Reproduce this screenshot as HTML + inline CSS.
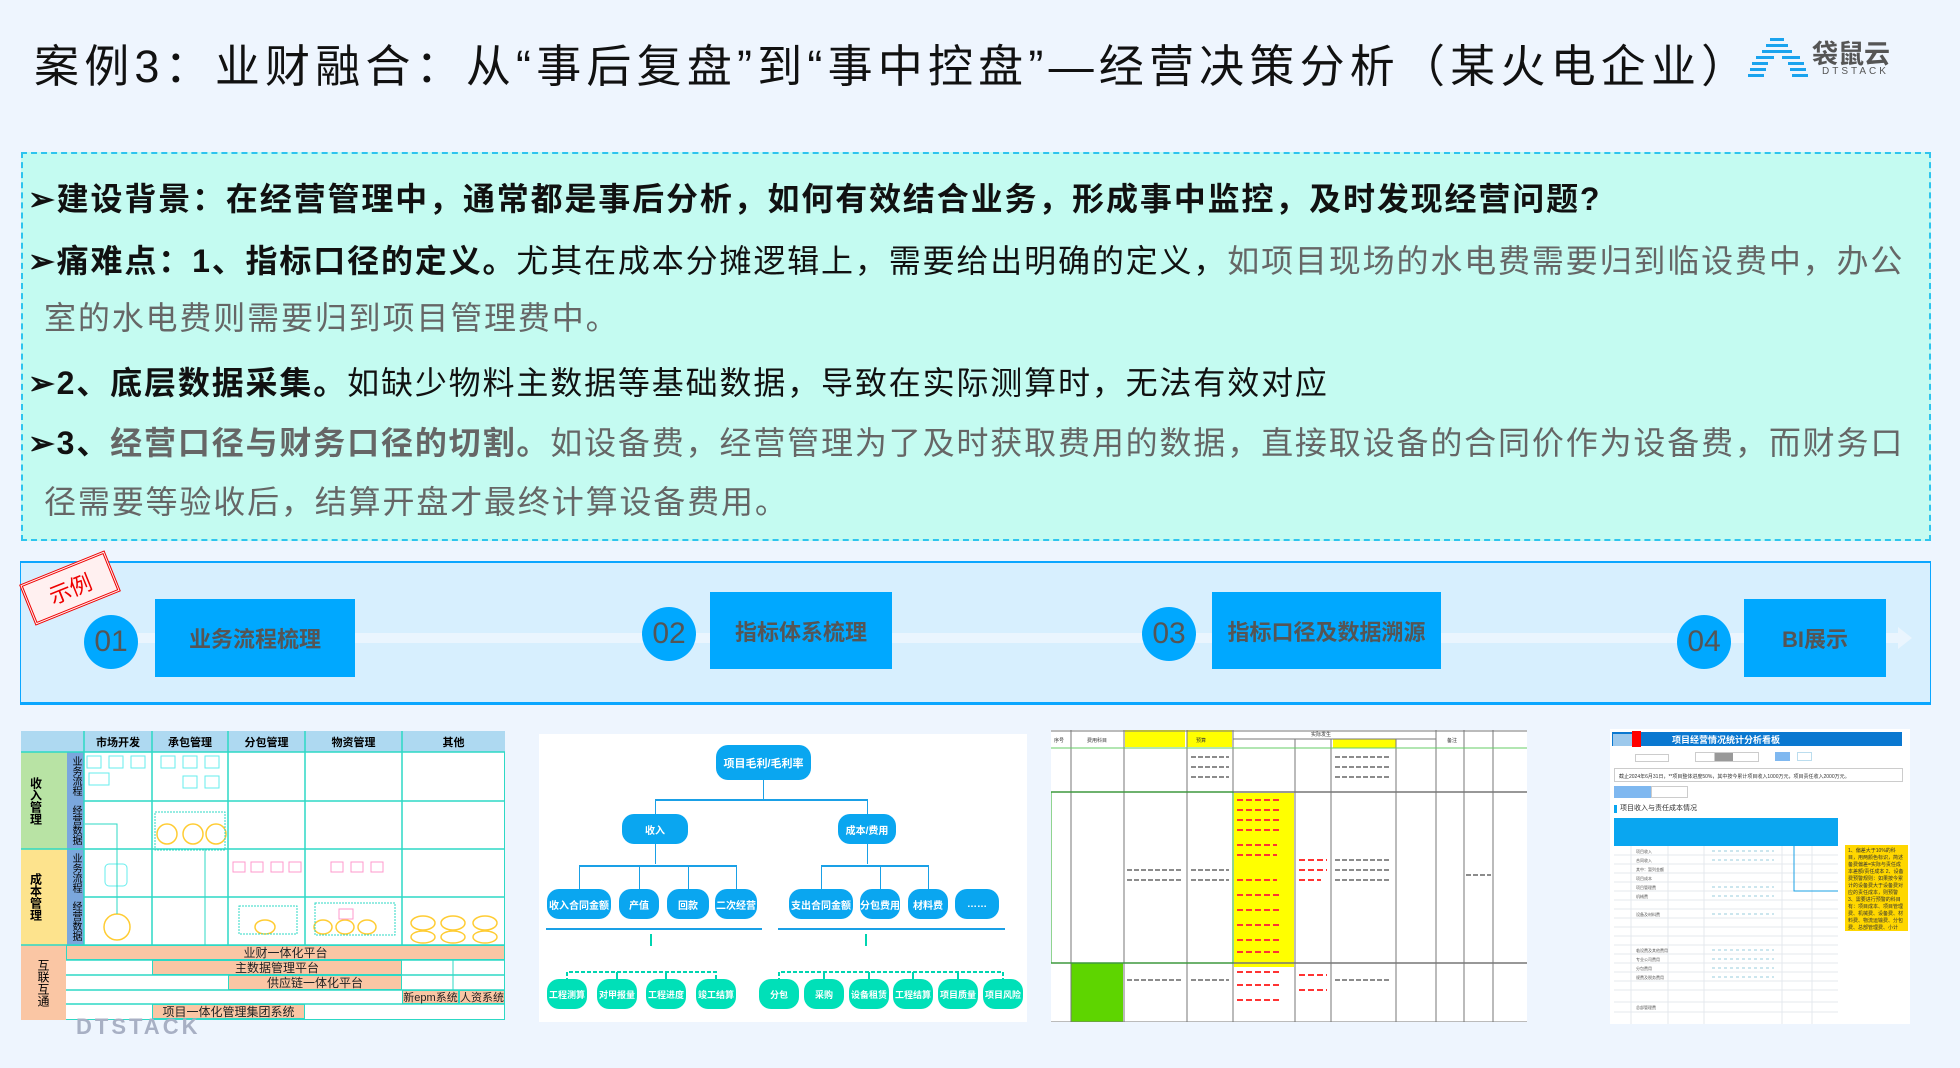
<!DOCTYPE html>
<html><head><meta charset="utf-8">
<style>
*{margin:0;padding:0;box-sizing:border-box}
body{width:1960px;height:1068px;background:#eef5fe;position:relative;overflow:hidden;font-family:"Liberation Sans","Noto Sans CJK SC",sans-serif}
.a{position:absolute}
.t{font-size:32px;color:#111;white-space:nowrap;letter-spacing:1.85px}
.g{color:#666}
.box{background:#00a8ff;color:#555;font-weight:bold;font-size:22px;display:flex;align-items:center;justify-content:center}
.num{background:#00a8ff;border-radius:50%;color:#555;font-size:30px;display:flex;align-items:center;justify-content:center;width:54px;height:54px}
.c{display:flex;align-items:center;justify-content:center;text-align:center;white-space:nowrap}
.bar{background:#fac6a4;border:1px solid #2dd9c5;font-size:12px;color:#222}
.tn{background:#0aa6f0;color:#fff;border-radius:12px;font-size:10px;font-weight:bold;overflow:hidden}
.gn{background:#00e0b8;color:#fff;border-radius:12px;font-size:9px;font-weight:bold;overflow:hidden}
.vl{position:absolute;width:0;border-left:1px solid #1aa0e6}
.hl{position:absolute;height:0;border-top:2px solid #1aa0e6}
</style></head><body>

<div class="a" style="left:34px;top:30px;font-size:45px;color:#111;white-space:nowrap;letter-spacing:5.2px">案例3：业财融合：从“事后复盘”到“事中控盘”—经营决策分析（某火电企业）</div>
<svg class="a" style="left:1748px;top:36px" width="70" height="44">
<g fill="#1aa3ee"><rect x="22" y="2" width="14" height="3"/><rect x="18" y="8" width="22" height="3"/><rect x="14" y="14" width="30" height="3"/><rect x="8" y="20" width="18" height="3"/><rect x="34" y="20" width="18" height="3"/><rect x="4" y="26" width="16" height="3"/><rect x="40" y="26" width="16" height="3"/><rect x="2" y="32" width="16" height="3"/><rect x="42" y="32" width="16" height="3"/><rect x="0" y="38" width="16" height="3"/><rect x="44" y="38" width="16" height="3"/></g></svg>
<div class="a" style="left:1812px;top:34px;font-size:26px;color:#555;font-weight:bold">袋鼠云</div>
<div class="a" style="left:1822px;top:66px;font-size:10px;color:#555;letter-spacing:3px">DTSTACK</div>

<div class="a" style="left:21px;top:152px;width:1910px;height:389px;background:#c4fbf1;border:2px dashed #2ec4ee"></div>
<div class="a t" style="left:28px;top:174px;font-weight:bold">➢建设背景：在经营管理中，通常都是事后分析，如何有效结合业务，形成事中监控，及时发现经营问题?</div>
<div class="a t" style="left:28px;top:236px"><b>➢痛难点：1、指标口径的定义。</b>尤其在成本分摊逻辑上，需要给出明确的定义，<span class="g">如项目现场的水电费需要归到临设费中，办公</span></div>
<div class="a t g" style="left:44px;top:293px">室的水电费则需要归到项目管理费中。</div>
<div class="a t" style="left:28px;top:358px"><b>➢2、底层数据采集。</b>如缺少物料主数据等基础数据，导致在实际测算时，无法有效对应</div>
<div class="a t g" style="left:28px;top:418px"><b style="color:#111">➢</b><b style="color:#111">3、</b><b>经营口径与财务口径的切割。</b>如设备费，经营管理为了及时获取费用的数据，直接取设备的合同价作为设备费，而财务口</div>
<div class="a t g" style="left:44px;top:477px">径需要等验收后，结算开盘才最终计算设备费用。</div>

<div class="a" style="left:20px;top:561px;width:1911px;height:144px;background:#d7effe;border-top:2px solid #0aa6ff;border-bottom:3px solid #0aa6ff;border-left:1px solid #0aa6ff;border-right:1px solid #0aa6ff"></div>
<div class="a" style="left:120px;top:633px;width:1780px;height:10px;background:#eaf5fe"></div>
<div class="a" style="left:1898px;top:627px;width:0;height:0;border-left:14px solid #eaf5fe;border-top:11px solid transparent;border-bottom:11px solid transparent"></div>
<div class="a" style="left:24px;top:566px;width:92px;height:44px;border:3px double #e00;transform:rotate(-22deg);color:#e00;font-size:22px;display:flex;align-items:center;justify-content:center;background:#fff0f0">示例</div>

<div class="a num" style="left:84px;top:615px">01</div>
<div class="a box" style="left:155px;top:599px;width:200px;height:78px">业务流程梳理</div>
<div class="a num" style="left:642px;top:607px">02</div>
<div class="a box" style="left:710px;top:592px;width:182px;height:77px">指标体系梳理</div>
<div class="a num" style="left:1142px;top:607px">03</div>
<div class="a box" style="left:1212px;top:592px;width:229px;height:77px">指标口径及数据溯源</div>
<div class="a num" style="left:1677px;top:615px">04</div>
<div class="a box" style="left:1744px;top:599px;width:142px;height:78px">BI展示</div>

<div class="a" style="left:21px;top:731px;width:484px;height:289px;background:#fff;border:1px solid #2dd9c5"></div>
<div class="a" style="left:21px;top:731px;width:484px;height:21px;background:#aed9f1"></div>
<div class="a c" style="left:84px;top:731px;width:68px;height:21px;font-size:11px;font-weight:bold">市场开发</div>
<div class="a c" style="left:152px;top:731px;width:76px;height:21px;font-size:11px;font-weight:bold">承包管理</div>
<div class="a c" style="left:228px;top:731px;width:77px;height:21px;font-size:11px;font-weight:bold">分包管理</div>
<div class="a c" style="left:305px;top:731px;width:97px;height:21px;font-size:11px;font-weight:bold">物资管理</div>
<div class="a c" style="left:402px;top:731px;width:103px;height:21px;font-size:11px;font-weight:bold">其他</div>
<div class="a" style="left:21px;top:752px;width:46px;height:97px;background:#b8e3a4"></div>
<div class="a c" style="left:21px;top:752px;width:30px;height:97px;font-size:12px;font-weight:bold;writing-mode:vertical-rl">收入管理</div>
<div class="a" style="left:21px;top:849px;width:46px;height:96px;background:#fde38d"></div>
<div class="a c" style="left:21px;top:849px;width:30px;height:96px;font-size:12px;font-weight:bold;writing-mode:vertical-rl">成本管理</div>
<div class="a" style="left:67px;top:752px;width:17px;height:193px;background:#7ba7dd"></div>
<div class="a c" style="left:67px;top:752px;width:17px;height:48px;font-size:10px;writing-mode:vertical-rl">业务流程</div>
<div class="a c" style="left:67px;top:801px;width:17px;height:48px;font-size:10px;writing-mode:vertical-rl">经营数据</div>
<div class="a c" style="left:67px;top:849px;width:17px;height:48px;font-size:10px;writing-mode:vertical-rl">业务流程</div>
<div class="a c" style="left:67px;top:897px;width:17px;height:48px;font-size:10px;writing-mode:vertical-rl">经营数据</div>
<div class="a" style="left:21px;top:945px;width:45px;height:75px;background:#fac6a4"></div>
<div class="a c" style="left:21px;top:945px;width:45px;height:75px;font-size:12px;writing-mode:vertical-rl">互联互通</div>
<svg class="a" style="left:21px;top:731px" width="484" height="289">
<g stroke="#2dd9c5" stroke-width="1.5">
<line x1="63" y1="0" x2="63" y2="214"/><line x1="131" y1="0" x2="131" y2="214"/><line x1="207" y1="0" x2="207" y2="214"/><line x1="284" y1="0" x2="284" y2="214"/><line x1="381" y1="0" x2="381" y2="214"/>
<line x1="0" y1="21" x2="484" y2="21"/><line x1="63" y1="70" x2="484" y2="70"/><line x1="0" y1="118" x2="484" y2="118"/><line x1="63" y1="166" x2="484" y2="166"/><line x1="0" y1="214" x2="484" y2="214"/>
<line x1="45" y1="229" x2="484" y2="229"/><line x1="45" y1="244" x2="484" y2="244"/><line x1="45" y1="259" x2="484" y2="259"/><line x1="45" y1="273" x2="484" y2="273"/>
</g>
<g fill="#fff" stroke="#6ee" stroke-width="1"><rect x="66" y="25" width="14" height="12"/><rect x="88" y="25" width="14" height="12"/><rect x="110" y="25" width="14" height="12"/><rect x="68" y="42" width="20" height="12"/><rect x="140" y="25" width="14" height="12"/><rect x="162" y="25" width="14" height="12"/><rect x="184" y="25" width="14" height="12"/><rect x="162" y="45" width="14" height="12"/><rect x="184" y="45" width="14" height="12"/><rect x="84" y="133" width="22" height="22" rx="4"/></g>
<g fill="#fff" stroke="#fc3" stroke-width="1.5"><circle cx="96" cy="196" r="13"/><ellipse cx="146" cy="103" rx="10" ry="10"/><ellipse cx="172" cy="103" rx="10" ry="10"/><ellipse cx="195" cy="103" rx="10" ry="10"/><ellipse cx="244" cy="196" rx="10" ry="7"/><ellipse cx="302" cy="196" rx="9" ry="7"/><ellipse cx="324" cy="196" rx="9" ry="7"/><ellipse cx="346" cy="196" rx="9" ry="7"/><ellipse cx="402" cy="192" rx="12" ry="7"/><ellipse cx="432" cy="192" rx="12" ry="7"/><ellipse cx="464" cy="192" rx="12" ry="7"/><ellipse cx="402" cy="206" rx="12" ry="6"/><ellipse cx="432" cy="206" rx="12" ry="6"/><ellipse cx="464" cy="206" rx="12" ry="6"/></g>
<g fill="none" stroke="#2dd9c5" stroke-dasharray="2 1"><rect x="134" y="81" width="70" height="38"/><rect x="218" y="175" width="58" height="28"/><rect x="294" y="172" width="80" height="32"/></g>
<g fill="#fff" stroke="#f9c" stroke-width="1"><rect x="212" y="131" width="12" height="10"/><rect x="230" y="131" width="12" height="10"/><rect x="250" y="131" width="12" height="10"/><rect x="268" y="131" width="12" height="10"/><rect x="310" y="131" width="12" height="10"/><rect x="330" y="131" width="12" height="10"/><rect x="350" y="131" width="12" height="10"/><rect x="318" y="178" width="14" height="10"/></g>
<g stroke="#2dd9c5" fill="none"><polyline points="64,93 96,93 96,183"/><line x1="184" y1="118" x2="184" y2="214"/><line x1="432" y1="214" x2="432" y2="264"/></g>
</svg>
<div class="a bar c" style="left:66px;top:945px;width:439px;height:15px">业财一体化平台</div>
<div class="a bar c" style="left:152px;top:960px;width:250px;height:15px">主数据管理平台</div>
<div class="a bar c" style="left:228px;top:975px;width:174px;height:15px">供应链一体化平台</div>
<div class="a bar c" style="left:402px;top:990px;width:57px;height:14px;font-size:11px">新epm系统</div>
<div class="a bar c" style="left:459px;top:990px;width:46px;height:14px;font-size:11px">人资系统</div>
<div class="a bar c" style="left:152px;top:1004px;width:153px;height:15px">项目一体化管理集团系统</div>
<div class="a" style="left:76px;top:1014px;font-size:22px;font-weight:bold;color:#a8b0c4;letter-spacing:3px">DTSTACK</div>

<div class="a" style="left:539px;top:734px;width:488px;height:288px;background:#fff"></div>
<div class="a tn c" style="left:716px;top:745px;width:95px;height:35px;font-size:11px">项目毛利/毛利率</div>
<div class="vl" style="left:763px;top:780px;height:20px"></div>
<div class="hl" style="left:655px;top:799px;width:213px"></div>
<div class="vl" style="left:655px;top:799px;height:15px"></div><div class="vl" style="left:867px;top:799px;height:15px"></div>
<div class="a tn c" style="left:622px;top:814px;width:66px;height:30px">收入</div>
<div class="a tn c" style="left:838px;top:814px;width:58px;height:30px">成本/费用</div>
<div class="vl" style="left:655px;top:844px;height:20px"></div><div class="vl" style="left:867px;top:844px;height:20px"></div>
<div class="hl" style="left:579px;top:865px;width:157px"></div><div class="hl" style="left:821px;top:865px;width:108px"></div>
<div class="vl" style="left:579px;top:865px;height:24px"></div><div class="vl" style="left:639px;top:865px;height:24px"></div><div class="vl" style="left:688px;top:865px;height:24px"></div><div class="vl" style="left:736px;top:865px;height:24px"></div>
<div class="vl" style="left:821px;top:865px;height:24px"></div><div class="vl" style="left:880px;top:865px;height:24px"></div><div class="vl" style="left:928px;top:865px;height:24px"></div>
<div class="a tn c" style="left:547px;top:889px;width:64px;height:30px">收入合同金额</div>
<div class="a tn c" style="left:619px;top:889px;width:40px;height:30px">产值</div>
<div class="a tn c" style="left:667px;top:889px;width:42px;height:30px">回款</div>
<div class="a tn c" style="left:715px;top:889px;width:42px;height:30px">二次经营</div>
<div class="a tn c" style="left:789px;top:889px;width:64px;height:30px">支出合同金额</div>
<div class="a tn c" style="left:860px;top:889px;width:40px;height:30px">分包费用</div>
<div class="a tn c" style="left:908px;top:889px;width:40px;height:30px">材料费</div>
<div class="a tn c" style="left:955px;top:889px;width:44px;height:30px">……</div>
<div class="hl" style="left:546px;top:928px;width:216px"></div><div class="hl" style="left:778px;top:928px;width:227px"></div>
<svg class="a" style="left:539px;top:934px" width="488" height="50"><g stroke="#00d4b0" stroke-width="2" fill="none"><line x1="112" y1="0" x2="112" y2="12"/><line x1="327" y1="0" x2="327" y2="12"/><polyline stroke-dasharray="4 2" points="28,48 28,38 177,38 177,48"/><polyline stroke-dasharray="4 2" points="240,48 240,38 464,38 464,48"/><line x1="78" y1="38" x2="78" y2="48"/><line x1="127" y1="38" x2="127" y2="48"/><line x1="285" y1="38" x2="285" y2="48"/><line x1="330" y1="38" x2="330" y2="48"/><line x1="374" y1="38" x2="374" y2="48"/><line x1="419" y1="38" x2="419" y2="48"/></g></svg>
<div class="a gn c" style="left:547px;top:979px;width:40px;height:30px">工程测算</div>
<div class="a gn c" style="left:597px;top:979px;width:40px;height:30px">对甲报量</div>
<div class="a gn c" style="left:646px;top:979px;width:40px;height:30px">工程进度</div>
<div class="a gn c" style="left:696px;top:979px;width:40px;height:30px">竣工结算</div>
<div class="a gn c" style="left:759px;top:979px;width:40px;height:30px">分包</div>
<div class="a gn c" style="left:804px;top:979px;width:40px;height:30px">采购</div>
<div class="a gn c" style="left:849px;top:979px;width:40px;height:30px">设备租赁</div>
<div class="a gn c" style="left:893px;top:979px;width:40px;height:30px">工程结算</div>
<div class="a gn c" style="left:938px;top:979px;width:40px;height:30px">项目质量</div>
<div class="a gn c" style="left:983px;top:979px;width:40px;height:30px">项目风险</div>

<div class="a" style="left:1051px;top:730px;width:476px;height:292px;background:#fff"></div>
<div class="a" style="left:1125px;top:730px;width:60px;height:17px;background:#ff0"></div>
<div class="a" style="left:1187px;top:730px;width:45px;height:17px;background:#ff0"></div>
<div class="a" style="left:1333px;top:739px;width:63px;height:9px;background:#ff0"></div>
<div class="a" style="left:1234px;top:793px;width:60px;height:174px;background:#ff0"></div>
<div class="a" style="left:1071px;top:963px;width:52px;height:59px;background:#5ed500"></div>
<svg class="a" style="left:1051px;top:730px" width="476" height="292">
<g stroke="#777" stroke-width="1"><line x1="0" y1="1" x2="476" y2="1"/><line x1="0" y1="292" x2="476" y2="292"/><line x1="20" y1="0" x2="20" y2="292"/><line x1="73" y1="0" x2="73" y2="292"/><line x1="136" y1="0" x2="136" y2="292"/><line x1="182" y1="0" x2="182" y2="292"/><line x1="244" y1="9" x2="244" y2="292"/><line x1="280" y1="9" x2="280" y2="292"/><line x1="345" y1="9" x2="345" y2="292"/><line x1="385" y1="0" x2="385" y2="292"/><line x1="413" y1="0" x2="413" y2="292"/><line x1="442" y1="0" x2="442" y2="292"/><line x1="182" y1="9" x2="385" y2="9"/><line x1="0" y1="62" x2="476" y2="62" stroke-width="1.5"/><line x1="0" y1="233" x2="476" y2="233" stroke-width="1.5"/></g>
<line x1="0" y1="18" x2="476" y2="18" stroke="#6c6" stroke-width="1"/>
<rect x="0" y="62" width="182" height="171" fill="none" stroke="#2a2" stroke-width="1"/>
<g font-size="5" fill="#333"><text x="3" y="12">序号</text><text x="36" y="12">费用科目</text><text x="145" y="12">预算</text><text x="260" y="6">实际发生</text><text x="396" y="12">备注</text></g>
<g stroke="#f33" stroke-width="2" stroke-dasharray="6 3"><line x1="186" y1="70" x2="230" y2="70"/><line x1="186" y1="80" x2="230" y2="80"/><line x1="186" y1="90" x2="230" y2="90"/><line x1="186" y1="100" x2="230" y2="100"/><line x1="186" y1="115" x2="226" y2="115"/><line x1="186" y1="125" x2="226" y2="125"/><line x1="186" y1="150" x2="226" y2="150"/><line x1="186" y1="165" x2="228" y2="165"/><line x1="186" y1="180" x2="228" y2="180"/><line x1="186" y1="195" x2="228" y2="195"/><line x1="186" y1="210" x2="228" y2="210"/><line x1="186" y1="222" x2="228" y2="222"/><line x1="248" y1="130" x2="276" y2="130"/><line x1="248" y1="140" x2="276" y2="140"/><line x1="248" y1="150" x2="270" y2="150"/><line x1="186" y1="242" x2="228" y2="242"/><line x1="186" y1="255" x2="228" y2="255"/><line x1="186" y1="270" x2="228" y2="270"/><line x1="248" y1="245" x2="276" y2="245"/><line x1="248" y1="260" x2="276" y2="260"/></g>
<g stroke="#666" stroke-width="1.5" stroke-dasharray="5 2"><line x1="140" y1="27" x2="178" y2="27"/><line x1="140" y1="37" x2="178" y2="37"/><line x1="140" y1="47" x2="178" y2="47"/><line x1="284" y1="27" x2="340" y2="27"/><line x1="284" y1="37" x2="340" y2="37"/><line x1="284" y1="47" x2="340" y2="47"/><line x1="76" y1="140" x2="132" y2="140"/><line x1="76" y1="150" x2="132" y2="150"/><line x1="140" y1="140" x2="178" y2="140"/><line x1="140" y1="150" x2="178" y2="150"/><line x1="284" y1="130" x2="340" y2="130"/><line x1="284" y1="140" x2="340" y2="140"/><line x1="284" y1="150" x2="340" y2="150"/><line x1="76" y1="250" x2="132" y2="250"/><line x1="140" y1="250" x2="178" y2="250"/><line x1="284" y1="250" x2="340" y2="250"/><line x1="415" y1="145" x2="440" y2="145"/></g>
</svg>

<div class="a" style="left:1610px;top:729px;width:300px;height:295px;background:#fff"></div>
<div class="a" style="left:1612px;top:732px;width:290px;height:14px;background:#0a78d0"></div>
<div class="a" style="left:1613px;top:734px;width:22px;height:12px;background:#fff;opacity:.6"></div>
<div class="a" style="left:1632px;top:731px;width:9px;height:16px;background:#f00"></div>
<div class="a" style="left:1672px;top:733px;font-size:9px;color:#fff;font-weight:bold">项目经营情况统计分析看板</div>
<div class="a" style="left:1635px;top:754px;width:34px;height:8px;border:1px solid #ccc"></div>
<div class="a" style="left:1695px;top:752px;width:64px;height:10px;border:1px solid #ccc;background:linear-gradient(90deg,#fff 30%,#999 30%,#999 60%,#fff 60%)"></div>
<div class="a" style="left:1775px;top:752px;width:15px;height:9px;background:#7fb8f0"></div>
<div class="a" style="left:1797px;top:752px;width:15px;height:9px;border:1px solid #bde"></div>
<div class="a" style="left:1614px;top:768px;width:289px;height:14px;border:1px solid #ccc;font-size:5px;color:#333;padding:4px 4px">截止2024年6月31日，**项目整体进度50%，其中按今累计项目收入1000万元，项目责任收入2000万元。</div>
<div class="a" style="left:1614px;top:786px;width:37px;height:12px;background:#7fb8f0"></div>
<div class="a" style="left:1651px;top:786px;width:37px;height:12px;border:1px solid #ccc"></div>
<div class="a" style="left:1614px;top:805px;width:3px;height:8px;background:#0aa6f0"></div>
<div class="a" style="left:1620px;top:803px;font-size:7px;color:#333">项目收入与责任成本情况</div>
<div class="a" style="left:1614px;top:818px;width:224px;height:28px;background:#0aa6f0"></div>
<svg class="a" style="left:1614px;top:846px" width="224" height="178"><g stroke="#e4e8ee"><line x1="0" y1="9" x2="224" y2="9"/><line x1="0" y1="18" x2="224" y2="18"/><line x1="0" y1="27" x2="224" y2="27"/><line x1="0" y1="36" x2="224" y2="36"/><line x1="0" y1="45" x2="224" y2="45"/><line x1="0" y1="54" x2="224" y2="54"/><line x1="0" y1="63" x2="224" y2="63"/><line x1="0" y1="72" x2="224" y2="72"/><line x1="0" y1="81" x2="224" y2="81"/><line x1="0" y1="90" x2="224" y2="90"/><line x1="0" y1="99" x2="224" y2="99"/><line x1="0" y1="108" x2="224" y2="108"/><line x1="0" y1="117" x2="224" y2="117"/><line x1="0" y1="126" x2="224" y2="126"/><line x1="0" y1="135" x2="224" y2="135"/><line x1="0" y1="144" x2="224" y2="144"/><line x1="0" y1="156" x2="224" y2="156"/><line x1="0" y1="166" x2="224" y2="166"/><line x1="17" y1="0" x2="17" y2="178"/><line x1="54" y1="0" x2="54" y2="178"/><line x1="90" y1="0" x2="90" y2="178"/><line x1="168" y1="0" x2="168" y2="178"/><line x1="198" y1="0" x2="198" y2="178"/></g>
<g fill="#555" font-size="4"><text x="22" y="7">项目收入</text><text x="22" y="16">合同收入</text><text x="22" y="25">其中：暂列金额</text><text x="22" y="34">项目成本</text><text x="22" y="43">项目管理费</text><text x="22" y="52">机械费</text><text x="22" y="70">设备及材料费</text><text x="22" y="106">临设费及其他费用</text><text x="22" y="115">专业公司费用</text><text x="22" y="124">分包费用</text><text x="22" y="133">规费及税务费用</text><text x="22" y="163">总部管理费</text></g>
<g stroke="#9cd" stroke-dasharray="3 3"><line x1="98" y1="5" x2="160" y2="5"/><line x1="98" y1="14" x2="160" y2="14"/><line x1="98" y1="41" x2="160" y2="41"/><line x1="98" y1="50" x2="160" y2="50"/><line x1="98" y1="68" x2="160" y2="68"/><line x1="98" y1="104" x2="160" y2="104"/><line x1="98" y1="113" x2="160" y2="113"/><line x1="98" y1="122" x2="160" y2="122"/><line x1="98" y1="131" x2="160" y2="131"/></g>
<polyline points="180,0 180,45 230,45" fill="none" stroke="#1aa0e6"/></svg>
<div class="a" style="left:1845px;top:845px;width:63px;height:86px;background:#ffd700;font-size:5px;color:#333;padding:3px;line-height:7px">1、偏差大于10%的科目，用两颜色标识，简述备费偏差=实际与责任成本差额/责任成本 2、设备费预警规则：如果按今累计的设备费大于设备费对应的责任成本，则预警 3、需要进行预警的科目有：项目成本、项目管理费、机械费、设备费、材料费、物流运输费、分包费、总部管理费、小计</div>
</body></html>
